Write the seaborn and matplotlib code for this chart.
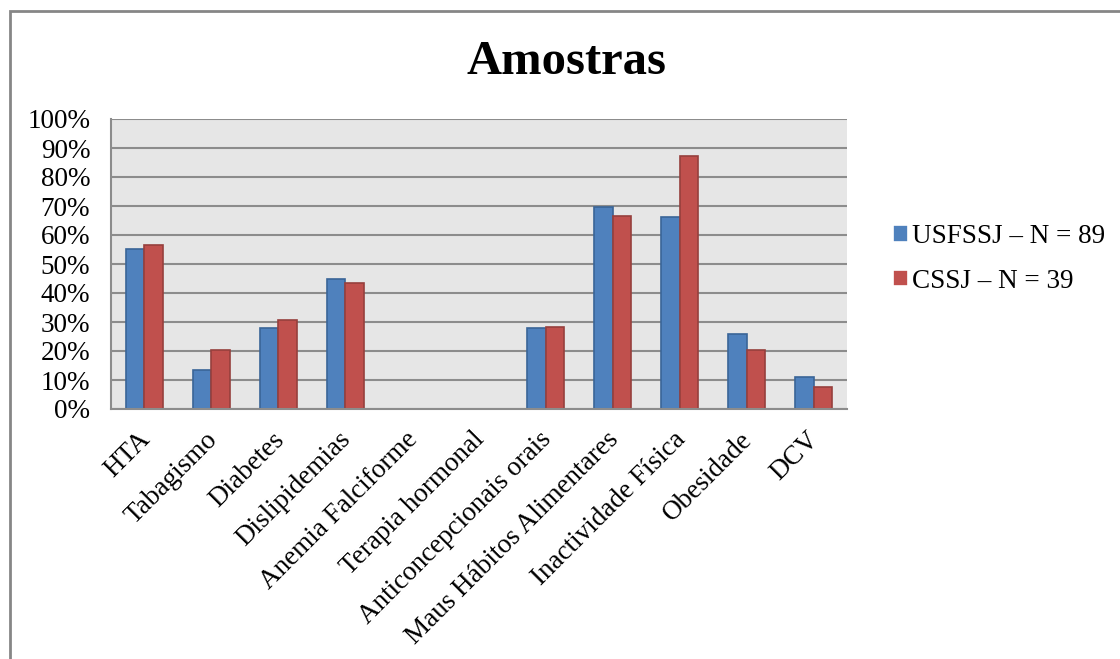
import pandas as pd
import matplotlib
matplotlib.use('Agg')
import matplotlib.pyplot as plt
import seaborn as sns
from matplotlib.patches import Rectangle
from matplotlib.ticker import PercentFormatter

# 数据
categorias = ['HTA', 'Tabagismo', 'Diabetes', 'Dislipidemias', 'Anemia Falciforme',
              'Terapia hormonal', 'Anticoncepcionais orais', 'Maus Hábitos Alimentares',
              'Inactividade Física', 'Obesidade', 'DCV']
usfssj = [55.1, 13.5, 28.1, 44.9, 0, 0, 28.1, 69.7, 66.3, 25.8, 11.2]
cssj = [56.4, 20.5, 30.8, 43.6, 0, 0, 28.2, 66.7, 87.2, 20.5, 7.7]
series = ['USFSSJ – N = 89', 'CSSJ – N = 39']

df = pd.DataFrame({
    'categoria': categorias * 2,
    'valor': usfssj + cssj,
    'serie': [series[0]] * len(categorias) + [series[1]] * len(categorias),
})

sns.set_theme(style='white')
plt.rcParams['font.family'] = ['Liberation Serif', 'DejaVu Serif']
plt.rcParams['text.color'] = 'black'

fig = plt.figure(figsize=(11.2, 6.59), dpi=100)
ax = fig.add_axes([111 / 1120, 1 - 409 / 659, 736 / 1120, 290 / 659])

cores = ['#4F81BD', '#C0504D']
bordas = ['#3A6597', '#96403D']
sns.barplot(data=df, x='categoria', y='valor', hue='serie', palette=cores,
            width=0.555, ax=ax, linewidth=1.2, saturation=1)

# contornos mais escuros
for cont, borda in zip(ax.containers, bordas):
    for p in cont:
        p.set_edgecolor(borda)

ax.set_facecolor('#E6E6E6')
ax.set_ylim(0, 100)
ax.set_yticks(range(0, 101, 10))
ax.yaxis.set_major_formatter(PercentFormatter(decimals=0))
ax.grid(axis='y', color='#8C8C8C', linewidth=1.5)
ax.set_axisbelow(True)
for lado in ['top', 'right']:
    ax.spines[lado].set_visible(False)
for lado in ['left', 'bottom']:
    ax.spines[lado].set_color('#8C8C8C')
    ax.spines[lado].set_linewidth(1.5)
ax.set_xlabel('')
ax.set_ylabel('')
ax.tick_params(axis='both', length=0, labelsize=19.5, colors='black')
ax.tick_params(axis='y', pad=15)
plt.setp(ax.get_xticklabels(), rotation=45, ha='right', va='center',
         rotation_mode='anchor')
for lab in ax.get_xticklabels():
    lab.set_transform(lab.get_transform() + matplotlib.transforms.ScaledTranslation(0.02, -0.22, fig.dpi_scale_trans))

fig.text(0.506, 1 - 62 / 659, 'Amostras', ha='center', va='center',
         fontsize=35, fontweight='bold', color='black')

handles, labels = ax.get_legend_handles_labels()
ax.legend_.remove()
fig.legend(handles, labels, loc='center left', bbox_to_anchor=(869 / 1120, 1 - 259 / 659),
           frameon=False, fontsize=19.5, handlelength=0.55, handleheight=0.55,
           handletextpad=0.15, labelspacing=0.73)

# moldura
fig.patches.append(Rectangle((9.5 / 1120, -0.05), 1.1, 1 - 10.5 / 659 + 0.05,
                             transform=fig.transFigure, fill=False,
                             edgecolor='#868686', linewidth=2))

fig.savefig('out.png', dpi=100)
